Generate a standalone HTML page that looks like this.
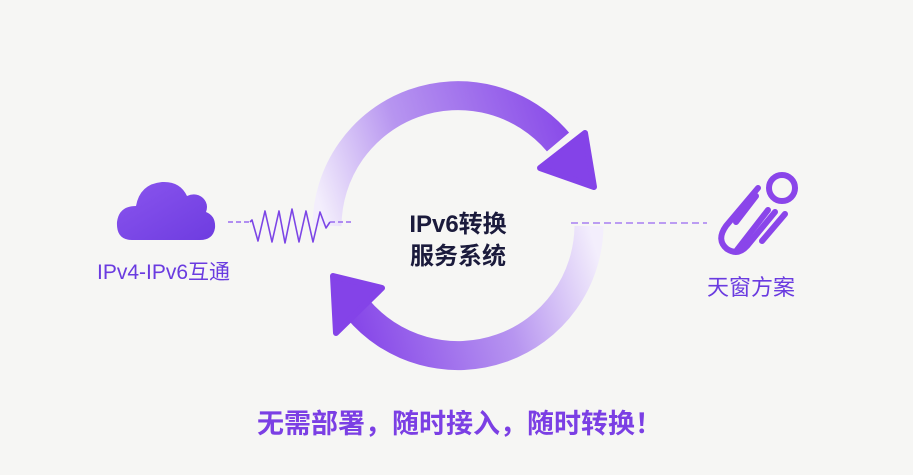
<!DOCTYPE html>
<html><head><meta charset="utf-8"><style>
html,body{margin:0;padding:0;}
body{width:913px;height:475px;background:#f6f6f4;position:relative;overflow:hidden;font-family:"Liberation Sans","Noto Sans CJK SC",sans-serif;}
.t{position:absolute;white-space:nowrap;}
</style></head><body>
<svg width="913" height="475" style="position:absolute;left:0;top:0">
<defs>
<linearGradient id="gt" x1="327" y1="226" x2="590" y2="140" gradientUnits="userSpaceOnUse">
<stop offset="0" stop-color="#f3eefc"/><stop offset="0.35" stop-color="#b795f0"/><stop offset="1" stop-color="#8443e8"/></linearGradient>
<linearGradient id="gb" x1="589" y1="226" x2="340" y2="300" gradientUnits="userSpaceOnUse">
<stop offset="0" stop-color="#f3eefc"/><stop offset="0.4" stop-color="#b795f0"/><stop offset="1" stop-color="#8443e8"/></linearGradient>
<linearGradient id="gc" x1="0" y1="0" x2="1" y2="1">
<stop offset="0" stop-color="#8a55ee"/><stop offset="1" stop-color="#6e3ce0"/></linearGradient>
</defs>
<path d="M327 226 A131 131 0 0 1 558 142" fill="none" stroke="url(#gt)" stroke-width="29"/>
<polygon points="540,168 585,133 594,187" fill="#8443e8" stroke="#8443e8" stroke-width="6" stroke-linejoin="round"/>
<path d="M589 226 A131 131 0 0 1 357 308" fill="none" stroke="url(#gb)" stroke-width="29"/>
<polygon points="382,288 336,333 333,276" fill="#8443e8" stroke="#8443e8" stroke-width="6" stroke-linejoin="round"/>
<path d="M132 240 Q116 240 117 222 Q119 206 136 206 Q140 184 162 182 Q180 181 187 196 Q196 192 203 198 Q209 204 206 212 Q216 216 215 228 Q213 240 200 240 Z" fill="url(#gc)"/>
<line x1="228" y1="222" x2="250" y2="222" stroke="#9a6cf0" stroke-width="1.5" stroke-dasharray="5,3"/>
<path d="M250 222 L252 220 L258 241 L265 211 L272 242 L279 211 L285 243 L292 209 L299 242 L306 211 L313 242 L320 212 L326 228 L330 222" fill="none" stroke="#7c45e6" stroke-width="1.6" stroke-linejoin="round"/>
<line x1="330" y1="222" x2="352" y2="222" stroke="#9a6cf0" stroke-width="1.5" stroke-dasharray="5,3"/>
<line x1="571" y1="223" x2="707" y2="223" stroke="#a77ff2" stroke-width="1.5" stroke-dasharray="7,4"/>
<g fill="none" stroke="#8a45ea" stroke-width="6" stroke-linecap="round">
<circle cx="782" cy="188" r="13"/>
<path d="M758 188 L726 226 Q716 240 727 249 Q738 256 747 246 L775 212"/>
<path d="M768 210 L737 250"/>
<path d="M785 214 L762 241"/>
<path d="M756 196 L736 222"/>
</g>
</svg>
<div class="t" style="left:97px;top:256px;font-size:21px;color:#6a3be0;">IPv4-IPv6互通</div>
<div class="t" style="left:398px;top:209px;font-size:24px;color:#1b1b3c;font-weight:bold;line-height:32px;text-align:center;width:120px;">IPv6转换<br>服务系统</div>
<div class="t" style="left:707px;top:270px;font-size:22px;color:#6a3be0;">天窗方案</div>
<div class="t" style="left:257px;top:402px;font-size:27px;color:#7b3fe4;font-weight:bold;">无需部署，随时接入，随时转换！</div>
</body></html>
